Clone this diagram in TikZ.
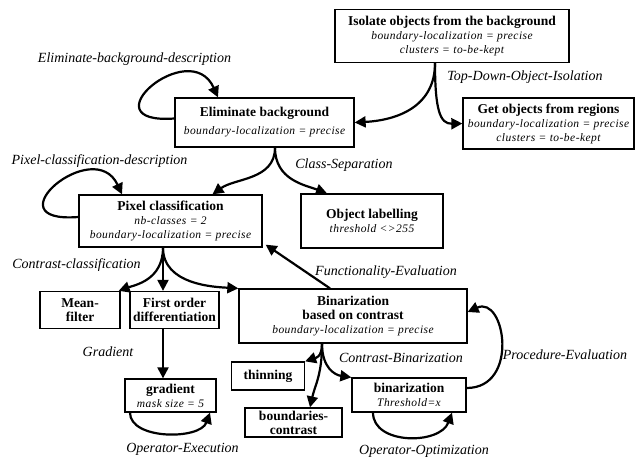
\documentclass[tikz,border=0pt]{standalone}
\usepackage{fontspec}
\setmainfont{Liberation Serif}
\usetikzlibrary{arrows.meta}

\newcommand{\attr}[1]{{\normalfont\itshape\fontsize{11.5}{13}\selectfont\addfontfeatures{LetterSpace=4}#1}}

\begin{document}
\begin{tikzpicture}[x=1pt, y=-1pt,
    box/.style={draw, line width=1.3pt, align=center, inner sep=1pt,
      font=\fontsize{13.5}{14}\selectfont\bfseries},
    flow/.style={line width=2.2pt, -{Triangle[length=11pt,width=11pt]}},
    lbl/.style={font=\fontsize{14}{15}\selectfont\itshape}]
  \useasboundingbox (0,0) rectangle (635,461);

  % Tasks
  \node[box, minimum width=234pt, minimum height=53pt] (isolate) at (452,36)
    {Isolate objects from the background\\ \attr{boundary-localization = precise}\\ \attr{clusters = to-be-kept}};
  \node[box, minimum width=179pt, minimum height=49pt] (eliminate) at (264.5,122.5)
    {Eliminate background\\[4pt] \attr{boundary-localization = precise}};
  \node[box, minimum width=171pt, minimum height=51pt] (getobj) at (548.5,123.5)
    {Get objects from regions\\ \attr{boundary-localization = precise}\\ \attr{clusters = to-be-kept}};
  \node[box, minimum width=183pt, minimum height=52pt] (pixel) at (170.5,221)
    {Pixel classification\\ \attr{nb-classes = 2}\\ \attr{boundary-localization = precise}};
  \node[box, minimum width=142pt, minimum height=54pt] (labelling) at (372,221)
    {Object labelling\\ \attr{threshold <>255}};
  \node[box, minimum width=80pt, minimum height=37pt] (mean) at (80,310)
    {Mean-\\filter};
  \node[box, minimum width=89pt, minimum height=37pt] (firstorder) at (174.5,310)
    {First order\\differentiation};
  \node[box, minimum width=228pt, minimum height=54pt] (binar) at (353,316)
    {Binarization\\based on contrast\\ \attr{boundary-localization = precise}};
  \node[box, minimum width=73pt, minimum height=28pt] (thinning) at (268,376)
    {thinning};
  \node[box, minimum width=97pt, minimum height=29pt] (boundaries) at (293.5,422.5)
    {boundaries-\\contrast};
  \node[box, minimum width=114pt, minimum height=34pt] (binsmall) at (409,395)
    {binarization\\ \attr{Threshold=x}};
  \node[box, minimum width=91pt, minimum height=33pt] (gradient) at (170.5,395.5)
    {gradient\\ \attr{mask size = 5}};

  % Methods
  \draw[flow] ([yshift=4pt]eliminate.west) .. controls (85,125) and (190,35) .. ([xshift=-46.5pt]eliminate.north);
  \draw[flow] ([xshift=-17pt]isolate.south) .. controls (435,105) and (400,120) .. (eliminate.east);
  \draw[flow] ([xshift=-17pt]isolate.south) .. controls (435,110) and (440,124) .. (getobj.west);
  \draw[flow] ([yshift=4pt]pixel.west) .. controls (-11,224) and (94,134) .. ([xshift=-48.5pt]pixel.north);
  \draw[flow] ([xshift=10.5pt]eliminate.south) .. controls (275,180) and (235,178) .. ([xshift=42pt]pixel.north);
  \draw[flow] ([xshift=10.5pt]eliminate.south) .. controls (275,180) and (305,185) .. ([xshift=-45pt]labelling.north);
  \draw[flow] ([xshift=-7.5pt]pixel.south) .. controls (163,280) and (135,285) .. ([xshift=-2pt]mean.north east);
  \draw[flow] ([xshift=-7.5pt]pixel.south) -- ([xshift=-11.5pt]firstorder.north);
  \draw[flow] ([xshift=-7.5pt]pixel.south) .. controls (163,285) and (215,287) .. (binar.north west);
  \draw[flow] ([xshift=-23pt]binar.north) -- ([xshift=3pt,yshift=3pt]pixel.south east);
  \draw[flow] ([xshift=-11.5pt]firstorder.south) -- ([xshift=-7.5pt]gradient.north);
  \draw[flow] ([xshift=-40.5pt]gradient.south) .. controls (130,440) and (200,440) .. ([xshift=39.5pt]gradient.south);
  \draw[flow] ([xshift=-31pt]binar.south) .. controls (322,358) and (315,358) .. (thinning.north east);
  \draw[flow] ([xshift=-31pt]binar.south) .. controls (322,375) and (315,385) .. ([xshift=16.5pt]boundaries.north);
  \draw[flow] ([xshift=-31pt]binar.south) .. controls (322,368) and (335,375) .. (binsmall.north west);
  \draw[flow] ([xshift=-36pt]binsmall.south) .. controls (373,445) and (440,445) .. ([xshift=43pt]binsmall.south);
  \draw[flow] ([yshift=7pt]binsmall.east) .. controls (520,388) and (505,295) .. ([yshift=4pt]binar.east);

  % Method names
  \node[lbl] (elimdesc) at (134.5,59) {Eliminate-background-description};
  \node[lbl] (topdown) at (525,77) {Top-Down-Object-Isolation};
  \node[lbl] (pixdesc) at (99.5,161) {Pixel-classification-description};
  \node[lbl] (classsep) at (344,165) {Class-Separation};
  \node[lbl] (contrastcls) at (76.5,265) {Contrast-classification};
  \node[lbl] (funceval) at (386,272) {Functionality-Evaluation};
  \node[lbl] (gradlbl) at (108,352) {Gradient};
  \node[lbl] (contrastbin) at (401,358) {Contrast-Binarization};
  \node[lbl] (proceval) at (565,355) {Procedure-Evaluation};
  \node[lbl] (opexec) at (182.5,449) {Operator-Execution};
  \node[lbl] (opopt) at (424,451) {Operator-Optimization};
\end{tikzpicture}
\end{document}
